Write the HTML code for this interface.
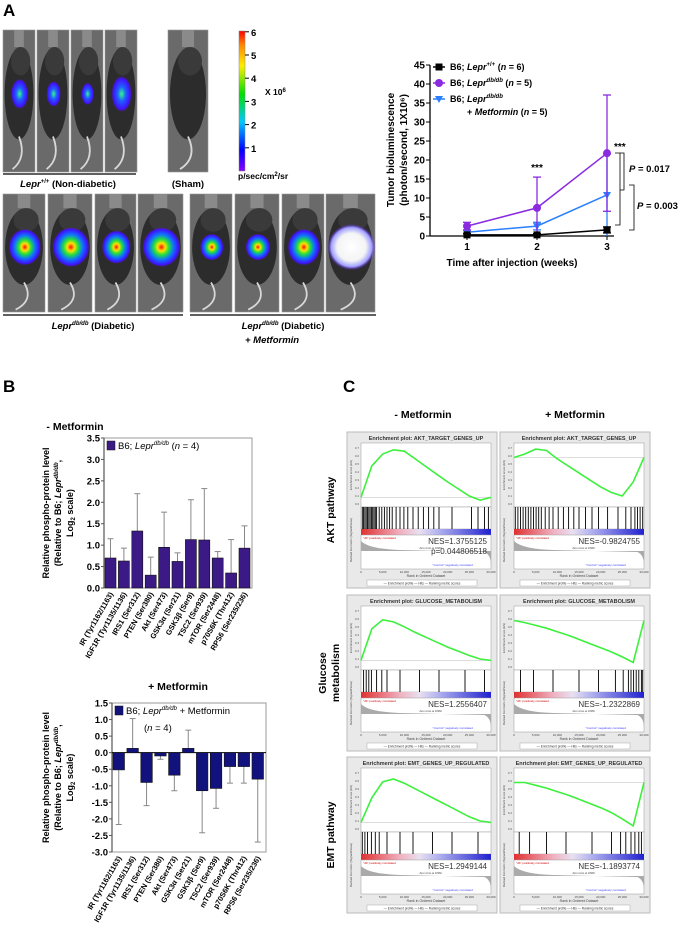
<!DOCTYPE html>
<html><head><meta charset="utf-8"><style>
html,body{margin:0;padding:0;background:#fff}
svg{display:block;font-family:"Liberation Sans",Arial,sans-serif}
</style></head><body>
<svg id="fig" width="680" height="946" viewBox="0 0 680 946" xmlns="http://www.w3.org/2000/svg">
<defs>
<linearGradient id="cbar" x1="0" y1="1" x2="0" y2="0">
<stop offset="0" stop-color="#8800ff"/><stop offset="0.15" stop-color="#0000ff"/><stop offset="0.35" stop-color="#00c8ff"/><stop offset="0.55" stop-color="#00e000"/><stop offset="0.75" stop-color="#ffee00"/><stop offset="0.9" stop-color="#ff8800"/><stop offset="1" stop-color="#ff0000"/></linearGradient>
<radialGradient id="blobS"><stop offset="0" stop-color="#30ff80"/><stop offset="0.4" stop-color="#2060ff"/><stop offset="0.85" stop-color="#4010ff"/><stop offset="1" stop-color="#6010ff" stop-opacity="0"/></radialGradient>
<radialGradient id="blobL"><stop offset="0" stop-color="#ff1010"/><stop offset="0.2" stop-color="#ffe000"/><stop offset="0.4" stop-color="#20e040"/><stop offset="0.65" stop-color="#1070ff"/><stop offset="0.9" stop-color="#4010ff"/><stop offset="1" stop-color="#6010ff" stop-opacity="0"/></radialGradient>
<radialGradient id="blobW"><stop offset="0" stop-color="#ffffff"/><stop offset="0.6" stop-color="#f4f4f4"/><stop offset="0.85" stop-color="#a0a0ff"/><stop offset="1" stop-color="#6010ff" stop-opacity="0"/></radialGradient>
<linearGradient id="rb" x1="0" y1="0" x2="1" y2="0"><stop offset="0" stop-color="#e03030"/><stop offset="0.3" stop-color="#f0b0c0"/><stop offset="0.45" stop-color="#e8e0f0"/><stop offset="0.6" stop-color="#b0b0f0"/><stop offset="1" stop-color="#2020d0"/></linearGradient>
</defs>

<text x="3" y="16" font-size="17" font-weight="bold">A</text>
<g id="mice"></g>
<line x1="3" y1="174" x2="136" y2="174" stroke="#000" stroke-width="1.2"/>
<text x="68" y="187" font-size="9.5" font-weight="bold" text-anchor="middle"><tspan font-style="italic">Lepr</tspan><tspan font-size="6" dy="-4">+/+</tspan><tspan dy="4"> (Non-diabetic)</tspan></text>
<text x="188" y="187" font-size="9.5" font-weight="bold" text-anchor="middle">(Sham)</text>
<rect x="239" y="31" width="6" height="140" fill="url(#cbar)" stroke="#888" stroke-width="0.5"/>
<g id="cbticks" font-size="9.5" font-weight="bold"></g>
<text x="265" y="95" font-size="8.5" font-weight="bold">X 10<tspan font-size="6" dy="-3">6</tspan></text>
<text x="238" y="179" font-size="8.5" font-weight="bold">p/sec/cm<tspan font-size="6" dy="-3">2</tspan><tspan dy="3">/sr</tspan></text>
<line x1="3" y1="315" x2="183" y2="315" stroke="#000" stroke-width="1.2"/>
<line x1="190" y1="315" x2="376" y2="315" stroke="#000" stroke-width="1.2"/>
<text x="93" y="329" font-size="9.5" font-weight="bold" text-anchor="middle"><tspan font-style="italic">Lepr</tspan><tspan font-size="6" dy="-4" font-style="italic">db/db</tspan><tspan dy="4"> (Diabetic)</tspan></text>
<text x="283" y="329" font-size="9.5" font-weight="bold" text-anchor="middle"><tspan font-style="italic">Lepr</tspan><tspan font-size="6" dy="-4" font-style="italic">db/db</tspan><tspan dy="4"> (Diabetic)</tspan></text>
<text x="245" y="343" font-size="9.5" font-weight="bold" font-style="italic">+ Metformin</text>

<g id="line"></g>

<text x="3" y="392" font-size="17" font-weight="bold">B</text>
<text x="75" y="430" font-size="10.5" font-weight="bold" text-anchor="middle">- Metformin</text>
<g id="bar1"></g>
<text x="178" y="690" font-size="10.5" font-weight="bold" text-anchor="middle">+ Metformin</text>
<g id="bar2"></g>

<text x="343" y="392" font-size="17" font-weight="bold">C</text>
<text x="423" y="418" font-size="10.5" font-weight="bold" text-anchor="middle">- Metformin</text>
<text x="575" y="418" font-size="10.5" font-weight="bold" text-anchor="middle">+ Metformin</text>
<text transform="translate(334,510) rotate(-90)" font-size="10.5" font-weight="bold" text-anchor="middle">AKT pathway</text>
<text transform="translate(326,673) rotate(-90)" font-size="10.5" font-weight="bold" text-anchor="middle">Glucose</text>
<text transform="translate(339,673) rotate(-90)" font-size="10.5" font-weight="bold" text-anchor="middle">metabolism</text>
<text transform="translate(334,835) rotate(-90)" font-size="10.5" font-weight="bold" text-anchor="middle">EMT pathway</text>
<g id="gsea"></g>
</svg>
<script>
// ---------- data ----------
const weeks = [1, 2, 3];
const wtMean = [0.3, 0.3, 1.6];
const wtErr = [0.3, 0.3, 0.8];
const dbMean = [2.6, 7.4, 21.8];
const dbErr = [1.0, 8.1, 15.3];
const metMean = [1.0, 2.6, 10.8];
const metErr = [0.5, 1.0, 10.8];
const lineYTicks = [0, 5, 10, 15, 20, 25, 30, 35, 40, 45];

const proteins = ["IR (Tyr1162/1163)", "IGF1R (Tyr1135/1136)", "IRS1 (Ser312)", "PTEN (Ser380)", "Akt (Ser473)", "GSK3\u03b1 (Ser21)", "GSK3\u03b2 (Ser9)", "TSC2 (Ser939)", "mTOR (Ser2448)", "p70S6K (Thr412)", "RPS6 (Ser235/236)"];
const noMetValues = [0.70, 0.63, 1.33, 0.30, 0.95, 0.62, 1.13, 1.12, 0.70, 0.35, 0.93];
const noMetErrors = [0.45, 0.30, 0.87, 0.42, 0.82, 0.20, 0.93, 1.20, 0.15, 0.78, 0.52];
const metValues = [-0.52, 0.13, -0.90, -0.10, -0.68, 0.13, -1.15, -1.08, -0.42, -0.42, -0.80];
const metErrors = [1.65, 0.90, 0.70, 0.10, 0.47, 0.55, 1.27, 0.60, 0.50, 0.50, 1.90];
const bar1Ticks = [0, 0.5, 1.0, 1.5, 2.0, 2.5, 3.0, 3.5];
const bar2Ticks = [1.5, 1.0, 0.5, 0, -0.5, -1.0, -1.5, -2.0, -2.5, -3.0];

const gseaTitles = ["AKT_TARGET_GENES_UP", "AKT_TARGET_GENES_UP", "GLUCOSE_METABOLISM", "GLUCOSE_METABOLISM", "EMT_GENES_UP_REGULATED", "EMT_GENES_UP_REGULATED"];
const gseaNES = ["NES=1.3755125", "NES=-0.9824755", "NES=1.2556407", "NES=-1.2322869", "NES=1.2949144", "NES=-1.1893774"];
const gseaP = ["p=0.044806518", "", "", "", "", ""];
const esCurve0 = [0, 0.45, 0.62, 0.68, 0.66, 0.55, 0.44, 0.33, 0.22, 0.12, 0.02, -0.04, 0];
const esCurve1 = [0, 0.05, 0.12, 0.1, -0.02, -0.12, -0.22, -0.32, -0.42, -0.5, -0.55, -0.35, 0];
const esCurve2 = [0, 0.45, 0.58, 0.55, 0.48, 0.4, 0.33, 0.26, 0.19, 0.13, 0.07, 0.02, 0];
const esCurve3 = [0, -0.03, -0.07, -0.11, -0.16, -0.21, -0.27, -0.33, -0.39, -0.45, -0.52, -0.6, 0];
const esCurve4 = [0, 0.35, 0.58, 0.62, 0.56, 0.48, 0.4, 0.32, 0.24, 0.16, 0.08, 0.02, 0];
const esCurve5 = [0, 0, -0.04, -0.08, -0.13, -0.18, -0.24, -0.3, -0.36, -0.43, -0.52, -0.62, 0];
const hits0 = [0.01,0.02,0.03,0.04,0.05,0.06,0.07,0.08,0.09,0.1,0.11,0.12,0.14,0.16,0.18,0.2,0.22,0.24,0.27,0.3,0.33,0.36,0.4,0.44,0.48,0.52,0.56,0.6,0.7,0.85,0.9,0.95,0.98];
const hits1 = [0.01,0.03,0.05,0.07,0.09,0.11,0.13,0.15,0.17,0.19,0.21,0.24,0.27,0.3,0.34,0.38,0.42,0.46,0.5,0.55,0.6,0.65,0.72,0.8,0.86,0.9,0.93,0.95,0.97,0.99];
const hits2 = [0.02,0.04,0.06,0.08,0.12,0.16,0.2,0.3,0.45,0.6,0.8,0.95];
const hits3 = [0.05,0.15,0.3,0.5,0.65,0.78,0.84,0.88,0.9,0.92,0.94,0.96,0.98,0.99];
const hits4 = [0.01,0.03,0.05,0.08,0.11,0.14,0.2,0.3,0.4,0.55,0.7,0.9];
const hits5 = [0.04,0.12,0.25,0.4,0.6,0.75,0.82,0.86,0.9,0.93,0.96,0.98];
const esCurves = [esCurve0, esCurve1, esCurve2, esCurve3, esCurve4, esCurve5];
const hitSets = [hits0, hits1, hits2, hits3, hits4, hits5];

// ---------- helpers ----------
const NS = "http://www.w3.org/2000/svg";
function el(tag, attrs, parent, text) {
  const e = document.createElementNS(NS, tag);
  for (const k in attrs) e.setAttribute(k, attrs[k]);
  if (text !== undefined) e.textContent = text;
  parent.appendChild(e);
  return e;
}

// ---------- mouse images ----------
const mice = document.getElementById('mice');
const miceBoxes = [
  [3,30,32,142,'blobS',0.38],[37,30,32,142,'blobS',0.32],[71,30,32,142,'blobS',0.28],[105,30,32,142,'blobS',0.45],
  [168,30,40,142,null,0],
  [3,194,42,118,'blobL',0.55],[48,194,44,118,'blobL',0.6],[95,194,41,118,'blobL',0.5],[138,194,45,118,'blobL',0.6],
  [190,194,42,118,'blobL',0.4],[235,194,44,118,'blobL',0.4],[282,194,42,118,'blobL',0.55],[326,194,49,118,'blobW',0.7]
];
miceBoxes.forEach((b, i) => {
  const g = el('g', {}, mice);
  
  
  const [x, y, w, h, blob, s] = b;
  el('rect', {x, y, width: w, height: h, fill: '#6a6a6a', stroke: '#999', 'stroke-width': 0.6}, g);
  el('rect', {x: x + w * 0.35, y, width: w * 0.3, height: h * 0.12, fill: '#8a8a8a'}, g);
  el('ellipse', {cx: x + w * 0.5, cy: y + h * 0.45, rx: w * 0.45, ry: h * 0.32, fill: '#2c2c2c'}, g);
  el('ellipse', {cx: x + w * 0.55, cy: y + h * 0.22, rx: w * 0.3, ry: h * 0.1, fill: '#3a3a3a'}, g);
  el('path', {d: `M${x + w * 0.5} ${y + h * 0.75} Q${x + w * 0.75} ${y + h * 0.9} ${x + w * 0.3} ${y + h * 0.98}`, stroke: '#d8d8d8', 'stroke-width': 1.8, fill: 'none'}, g);
  if (blob) el('ellipse', {cx: x + w * 0.52, cy: y + h * 0.45, rx: w * s * 0.7, ry: h * s * 0.28, fill: `url(#${blob})`}, g);
});
const cbt = document.getElementById('cbticks');
[1,2,3,4,5,6].forEach(v => {
  const yy = 171 - v * 23.2;
  el('line', {x1: 245, y1: yy, x2: 249, y2: yy, stroke: '#000'}, cbt);
  el('text', {x: 251, y: yy + 4}, cbt, String(v));
});

// ---------- line chart ----------
const lg = document.getElementById('line');
const lx = w => 467 + (w - 1) * 70;
const ly = v => 236 - v * 3.8;
el('line', {x1: 430, y1: ly(45), x2: 430, y2: 236, stroke: '#000', 'stroke-width': 1.3}, lg);
el('line', {x1: 430, y1: 236, x2: 614, y2: 236, stroke: '#000', 'stroke-width': 1.3}, lg);
lineYTicks.forEach(t => {
  el('line', {x1: 426, y1: ly(t), x2: 430, y2: ly(t), stroke: '#000'}, lg);
  const tl = el('text', {x: 425, y: ly(t) + 3.5, 'font-size': 10, 'font-weight': 'bold', 'text-anchor': 'end'}, lg, String(t));
  
  
});
weeks.forEach(w => {
  el('line', {x1: lx(w), y1: 236, x2: lx(w), y2: 240, stroke: '#000'}, lg);
  const tl = el('text', {x: lx(w), y: 250, 'font-size': 10, 'font-weight': 'bold', 'text-anchor': 'middle'}, lg, String(w));
  
  
});
const xt = el('text', {x: 512, y: 266, 'font-size': 10, 'font-weight': 'bold', 'text-anchor': 'middle'}, lg, 'Time after injection (weeks)');


const yt = el('text', {transform: 'translate(394,150) rotate(-90)', 'font-size': 10, 'font-weight': 'bold', 'text-anchor': 'middle'}, lg, 'Tumor bioluminescence');


const yt2 = el('text', {transform: 'translate(407,150) rotate(-90)', 'font-size': 10, 'font-weight': 'bold', 'text-anchor': 'middle'}, lg, '(photon/second, 1X10\u2076)');



function marker(g, type, x, y, c) {
  if (type === 'sq') return el('rect', {x: x - 3.5, y: y - 3.5, width: 7, height: 7, fill: c}, g);
  if (type === 'ci') return el('circle', {cx: x, cy: y, r: 4, fill: c}, g);
  return el('path', {d: `M${x - 4} ${y - 3} L${x + 4} ${y - 3} L${x} ${y + 4}Z`, fill: c}, g);
}
const series = [
  {m: metMean, e: metErr, c: '#2a7fff', t: 'tri', n: 'series-metformin'},
  {m: dbMean, e: dbErr, c: '#8a2be2', t: 'ci', n: 'series-db-db'},
  {m: wtMean, e: wtErr, c: '#000', t: 'sq', n: 'series-wild-type'}
];
series.forEach(s => {
  const g = el('g', {}, lg);
  
  
  weeks.forEach((w, i) => {
    const top = ly(s.m[i] + s.e[i]), bot = ly(Math.max(0, s.m[i] - s.e[i]));
    el('line', {x1: lx(w), y1: top, x2: lx(w), y2: bot, stroke: s.c, 'stroke-width': 1.3}, g);
    el('line', {x1: lx(w) - 4, y1: top, x2: lx(w) + 4, y2: top, stroke: s.c, 'stroke-width': 1.3}, g);
    if (s.m[i] - s.e[i] > 0) el('line', {x1: lx(w) - 4, y1: bot, x2: lx(w) + 4, y2: bot, stroke: s.c, 'stroke-width': 1.3}, g);
  });
  el('polyline', {points: weeks.map((w, i) => lx(w) + ',' + ly(s.m[i])).join(' '), fill: 'none', stroke: s.c, 'stroke-width': 1.5}, g);
  weeks.forEach((w, i) => {
    const mk = marker(g, s.t, lx(w), ly(s.m[i]), s.c);
    
    
  });
});
el('text', {x: lx(2), y: ly(dbMean[1] + dbErr[1]) - 6, 'font-size': 10, 'font-weight': 'bold', 'text-anchor': 'middle'}, lg, '***');
el('text', {x: 614, y: 150, 'font-size': 10, 'font-weight': 'bold'}, lg, '***');
el('path', {d: 'M615 153 H620 V225 H615', fill: 'none', stroke: '#000', 'stroke-width': 0.8}, lg);
el('path', {d: 'M620 153 H624 V190 H620', fill: 'none', stroke: '#000', 'stroke-width': 0.8}, lg);
el('path', {d: 'M629 185 H634 V230 H629', fill: 'none', stroke: '#000', 'stroke-width': 0.8}, lg);
const p1 = el('text', {x: 629, y: 172, 'font-size': 9.5, 'font-weight': 'bold'}, lg);
p1.innerHTML = '<tspan font-style="italic">P</tspan> = 0.017';
const p2 = el('text', {x: 637, y: 209, 'font-size': 9.5, 'font-weight': 'bold'}, lg);
p2.innerHTML = '<tspan font-style="italic">P</tspan> = 0.003';
const leg = el('g', {'font-size': 9, 'font-weight': 'bold'}, lg);


[['#000','sq',67],['#8a2be2','ci',83],['#2a7fff','tri',99]].forEach(r => {
  el('line', {x1: 433, y1: r[2], x2: 445, y2: r[2], stroke: r[0], 'stroke-width': 1.5}, leg);
  marker(leg, r[1], 439, r[2], r[0]);
});
el('text', {x: 450, y: 70}, leg).innerHTML = 'B6; <tspan font-style="italic">Lepr</tspan><tspan font-size="6" dy="-4">+/+</tspan><tspan dy="4"> (</tspan><tspan font-style="italic">n</tspan> = 6)';
el('text', {x: 450, y: 86}, leg).innerHTML = 'B6; <tspan font-style="italic">Lepr</tspan><tspan font-size="6" dy="-4" font-style="italic">db/db</tspan><tspan dy="4"> (</tspan><tspan font-style="italic">n</tspan> = 5)';
el('text', {x: 450, y: 102}, leg).innerHTML = 'B6; <tspan font-style="italic">Lepr</tspan><tspan font-size="6" dy="-4" font-style="italic">db/db</tspan>';
el('text', {x: 467, y: 115}, leg).innerHTML = '+ <tspan font-style="italic">Metformin</tspan> (<tspan font-style="italic">n</tspan> = 5)';

// ---------- bar charts ----------
function barChart(gid, values, errors, ticks, ymin, ymax, top, bottom, left, right, pitch, color, legendLines, titleX) {
  const g = document.getElementById(gid);
  const y = v => bottom - (v - ymin) * (bottom - top) / (ymax - ymin);
  const x = i => left + 1 + i * pitch;
  el('rect', {x: left, y: top, width: right - left, height: bottom - top, fill: 'none', stroke: '#999', 'stroke-width': 1}, g);
  el('line', {x1: left, y1: top, x2: left, y2: bottom, stroke: '#555', 'stroke-width': 1.2}, g);
  ticks.forEach(t => {
    el('line', {x1: left - 3, y1: y(t), x2: left, y2: y(t), stroke: '#555'}, g);
    const tl = el('text', {x: left - 4, y: y(t) + 3.5, 'font-size': 9.5, 'font-weight': 'bold', 'text-anchor': 'end'}, g, t.toFixed(1));
    
    
  });
  const base = ymin < 0 ? y(0) : bottom;
  if (ymin < 0) el('line', {x1: left, y1: base, x2: right, y2: base, stroke: '#000', 'stroke-width': 1}, g);
  values.forEach((v, i) => {
    const bx = x(i), bw = pitch - 2.4;
    const e = errors[i];
    const ee = v >= 0 ? v + e : v - e;
    const cx = bx + bw / 2;
    el('line', {x1: cx, y1: y(v), x2: cx, y2: y(ee), stroke: '#888', 'stroke-width': 1}, g);
    el('line', {x1: cx - 3, y1: y(ee), x2: cx + 3, y2: y(ee), stroke: '#888', 'stroke-width': 1}, g);
    const r = el('rect', {x: bx, y: Math.min(y(v), base), width: bw, height: Math.abs(y(v) - base), fill: color, stroke: '#111', 'stroke-width': 0.6}, g);
    
    
    const lab = el('text', {transform: `translate(${cx + 3},${bottom + 6}) rotate(-60)`, 'font-size': 7.5, 'font-weight': 'bold', 'text-anchor': 'end'}, g, proteins[i]);
    
    
  });
  const lgd = el('g', {'font-size': 9.5}, g);
  
  
  el('rect', {x: left + 3, y: top + 3, width: 8, height: 9, fill: color, stroke: '#111', 'stroke-width': 0.5}, lgd);
  legendLines.forEach((s, k) => { el('text', {x: left + 14 + (k ? 18 : 0), y: top + 11 + k * 17}, lgd).innerHTML = s; });
  const ttl = (bottom + top) / 2;
  [['Relative phospho-protein level', 0], ['(Relative to B6; <tspan font-style="italic">Lepr</tspan><tspan font-size="6" dy="-3" font-style="italic">db/db</tspan><tspan dy="3">,</tspan>', 12], ['Log<tspan font-size="6" dy="2">2</tspan><tspan dy="-2"> scale)</tspan>', 24]].forEach(a => {
    const t = el('text', {transform: `translate(${titleX + a[1]},${ttl}) rotate(-90)`, 'font-size': 9, 'font-weight': 'bold', 'text-anchor': 'middle'}, g);
    t.innerHTML = a[0];
    
    
  });
}
barChart('bar1', noMetValues, noMetErrors, bar1Ticks, 0, 3.5, 438, 588, 104, 252, 13.4, '#3c1a86',
  ['B6; <tspan font-style="italic">Lepr</tspan><tspan font-size="6" dy="-4" font-style="italic">db/db</tspan><tspan dy="4"> (</tspan><tspan font-style="italic">n</tspan> = 4)'], 49);
barChart('bar2', metValues, metErrors, bar2Ticks, -3, 1.5, 703, 852, 112, 266, 13.9, '#12127e',
  ['B6; <tspan font-style="italic">Lepr</tspan><tspan font-size="6" dy="-4" font-style="italic">db/db</tspan><tspan dy="4"> + Metformin</tspan>', '(<tspan font-style="italic">n</tspan> = 4)'], 49);

// ---------- GSEA ----------
const gs = document.getElementById('gsea');
const gpos = [[347,432],[500,432],[347,595],[500,595],[347,757],[500,757]];
gpos.forEach((p, k) => {
  const [X, Y] = p, W = 150, H = 156;
  const g = el('g', {}, gs);
  
  
  el('rect', {x: X, y: Y, width: W, height: H, fill: '#e9e9e9', stroke: '#bbb'}, g);
  el('text', {x: X + W / 2 + 4, y: Y + 8, 'font-size': 5.5, 'font-weight': 'bold', 'text-anchor': 'middle', fill: '#333'}, g, 'Enrichment plot: ' + gseaTitles[k]);
  const px = X + 14, pw = W - 20, py = Y + 11, ph = 64;
  el('rect', {x: px, y: py, width: pw, height: ph, fill: '#fff', stroke: '#999', 'stroke-width': 0.5}, g);
  const cur = esCurves[k];
  const isNeg = k % 2 === 1;
  const ey = v => isNeg ? py + 4 + (0.15 - v) / 0.8 * (ph - 8) : py + 4 + (0.72 - v) / 0.8 * (ph - 8);
  el('line', {x1: px, y1: ey(0), x2: px + pw, y2: ey(0), stroke: '#bbb', 'stroke-width': 0.5}, g);
  const pts = cur.map((v, i) => (px + i / (cur.length - 1) * pw).toFixed(1) + ',' + ey(v).toFixed(1)).join(' ');
  const pl = el('polyline', {points: pts, fill: 'none', stroke: '#3cf03c', 'stroke-width': 1.6}, g);
  
  
  for (let t = 0; t < 8; t++) el('text', {x: px - 2, y: py + 6 + t * 8, 'font-size': 3, 'text-anchor': 'end', fill: '#555'}, g, '0.' + (7 - t));
  const by = py + ph, bh = 22;
  el('rect', {x: px, y: by, width: pw, height: bh, fill: '#fff', stroke: '#999', 'stroke-width': 0.5}, g);
  hitSets[k].forEach(h => el('line', {x1: px + h * pw, y1: by, x2: px + h * pw, y2: by + bh, stroke: '#000', 'stroke-width': 0.9}, g));
  el('rect', {x: px, y: by + bh, width: pw, height: 6, fill: 'url(#rb)'}, g);
  const ry = by + bh + 6, rh = 34;
  el('rect', {x: px, y: ry, width: pw, height: rh, fill: '#fff', stroke: '#999', 'stroke-width': 0.5}, g);
  el('path', {d: `M${px} ${ry + 6} Q${px + 8} ${ry + 14} ${px + pw * 0.3} ${ry + 15} L${px + pw * 0.95} ${ry + 17} Q${px + pw} ${ry + 20} ${px + pw} ${ry + 30} L${px + pw} ${ry + 16} L${px} ${ry + 16}Z`, fill: '#aaa'}, g);
  el('text', {x: px + pw * 0.45, y: ry + 14, 'font-size': 2.5, fill: '#444'}, g, 'Zero cross at 10960');
  el('text', {x: px + pw - 4, y: by + bh + 15, 'font-size': 8, 'text-anchor': 'end', fill: '#333'}, g, gseaNES[k]);
  if (gseaP[k]) el('text', {x: px + pw - 4, y: by + bh + 25, 'font-size': 8, 'text-anchor': 'end', fill: '#333'}, g, gseaP[k]);
  el('text', {x: px + pw * 0.55, y: ry + rh - 3, 'font-size': 3, fill: '#44f'}, g, '"Control" negatively correlated');
  el('text', {x: px + 2, y: by + bh + 10, 'font-size': 3, fill: '#c00'}, g, '"db" positively correlated');
  el('text', {x: px + pw / 2, y: ry + rh + 8, 'font-size': 3.5, 'text-anchor': 'middle', fill: '#444'}, g, 'Rank in Ordered Dataset');
  ['0','5,000','10,000','15,000','20,000','25,000','30,000'].forEach((t, i) => el('text', {x: px + i / 6 * pw, y: ry + rh + 4, 'font-size': 3, 'text-anchor': 'middle', fill: '#444'}, g, t));
  el('rect', {x: X + 20, y: Y + H - 8, width: W - 40, height: 6, fill: '#fff', stroke: '#999', 'stroke-width': 0.4}, g);
  el('text', {x: X + W / 2, y: Y + H - 3.5, 'font-size': 3.2, 'text-anchor': 'middle', fill: '#333'}, g, '\u2014 Enrichment profile   \u2014 Hits   \u2014 Ranking metric scores');
  el('text', {transform: `translate(${X + 5},${py + ph / 2}) rotate(-90)`, 'font-size': 3, 'text-anchor': 'middle', fill: '#444'}, g, 'Enrichment score (ES)');
  el('text', {transform: `translate(${X + 5},${ry + 5}) rotate(-90)`, 'font-size': 3, 'text-anchor': 'middle', fill: '#444'}, g, 'Ranked list metric (Signal2Noise)');
});
</script>
</body></html>
